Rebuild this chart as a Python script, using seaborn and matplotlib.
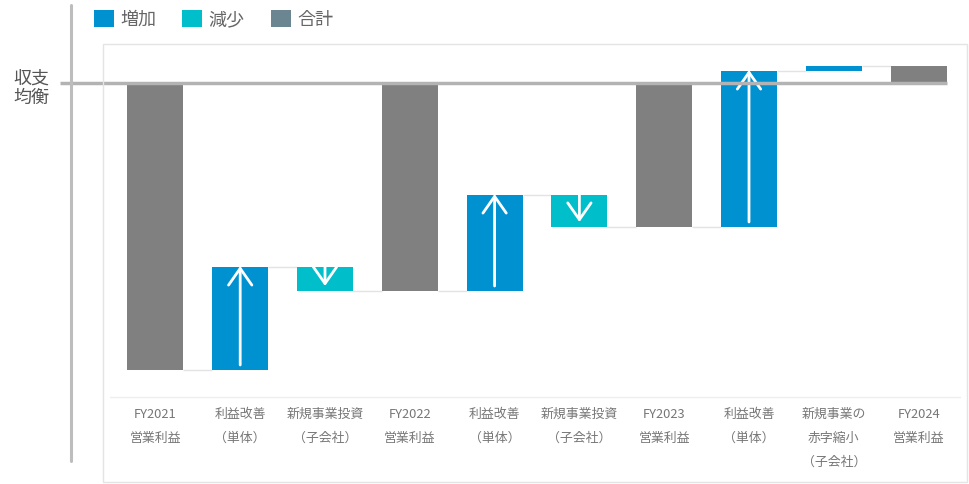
import matplotlib
matplotlib.use("Agg")
import matplotlib.pyplot as plt
import seaborn as sns
import numpy as np
import pandas as pd
from matplotlib.patches import Patch, Rectangle
from matplotlib.lines import Line2D

# ---- data (arbitrary units; 0 = 収支均衡) ----
categories = ["FY2021\n営業利益", "利益改善\n（単体）", "新規事業投資\n（子会社）",
              "FY2022\n営業利益", "利益改善\n（単体）", "新規事業投資\n（子会社）",
              "FY2023\n営業利益", "利益改善\n（単体）", "新規事業の\n赤字縮小\n（子会社）",
              "FY2024\n営業利益"]
kinds = ["total", "up", "down", "total", "up", "down", "total", "up", "up", "total"]
values = [-287, 103, -24, -208, 96, -32, -144, 156, 5, 17]
legend_labels = ["増加", "減少", "合計"]

colors = {"up": "#0091d1", "down": "#00bfca", "total": "#808080"}
legend_colors = ["#0091d1", "#00bfca", "#6b8691"]

# running waterfall bottoms / heights
bottoms, heights, ends = [], [], []
run = 0.0
for k, v in zip(kinds, values):
    if k == "total":
        bottoms.append(0.0); heights.append(v); run = v
    else:
        bottoms.append(run); heights.append(v); run = run + v
    ends.append(run)

W, H = 969, 484
def fx(x): return x / W
def fy(y): return 1 - y / H

sns.set_theme(style="white")
plt.rcParams["font.family"] = ["Noto Sans CJK JP", "DejaVu Sans"]

fig = plt.figure(figsize=(W / 100, H / 100), dpi=100)
ax = fig.add_axes([fx(113), fy(397), 848 / W, 353 / H])

df = pd.DataFrame({"cat": [f"c{i}" for i in range(len(values))], "h": heights})
sns.barplot(data=df, x="cat", y="h", bottom=np.array(bottoms), width=0.66,
            errorbar=None, ax=ax, color="#808080", saturation=1, linewidth=0)
for p, k in zip(ax.patches, kinds):
    p.set_facecolor(colors[k])

ax.set_xlim(-0.5, len(values) - 0.5)
ax.set_ylim(-314, 39)
for s in ax.spines.values():
    s.set_visible(False)
ax.set_yticks([])
ax.set_xlabel(""); ax.set_ylabel("")
ax.set_xticks(range(len(categories)))
ax.set_xticklabels(categories, fontsize=9.3, color="#777777", linespacing=2.1, va="top")
ax.tick_params(axis="x", length=0, pad=8)

# connectors
for i in range(len(values) - 1):
    ax.hlines(ends[i], i + 0.33, i + 1 - 0.33, color="#e3e3e3", lw=1, zorder=0)

# arrows
astyle = "->,head_length=1.0,head_width=0.7"
for i, (k, b, h) in enumerate(zip(kinds, bottoms, heights)):
    if k == "total" or abs(h) < 10:
        continue
    if k == "up":
        ax.annotate("", xy=(i, b + h + 1), xytext=(i, b + 5),
                    arrowprops=dict(arrowstyle=astyle, color="white", lw=2,
                                    shrinkA=0, shrinkB=0))
    else:
        ax.annotate("", xy=(i, b + h + 5), xytext=(i, b),
                    arrowprops=dict(arrowstyle=astyle, color="white", lw=2,
                                    shrinkA=0, shrinkB=0))

# frame / decorations in figure coordinates
fig.patches.append(Rectangle((fx(103), fy(482)), (967 - 103) / W, (482 - 44) / H,
                             transform=fig.transFigure, fill=False,
                             edgecolor="#e4e4e4", lw=1, zorder=0))
fig.lines.append(Line2D([fx(110), fx(960)], [fy(397), fy(397)], transform=fig.transFigure,
                        color="#eeeeee", lw=1))
fig.lines.append(Line2D([fx(71), fx(71)], [fy(5), fy(461)], transform=fig.transFigure,
                        color="#bdbdbd", lw=2.2))
# 収支均衡 line
ax.plot([-0.5 - (113 - 60) / 84.8, len(values) - 1 + 0.33], [0, 0], color="#b3b3b3",
        lw=2.5, clip_on=False, zorder=3, solid_capstyle="butt")
fig.text(fx(31), fy(88), "収支\n均衡", ha="center", va="center", fontsize=13,
         color="#555555", linespacing=1.1)

handles = [Patch(facecolor=c, edgecolor="none") for c in legend_colors]
fig.legend(handles, legend_labels, loc="upper left", bbox_to_anchor=(fx(94), fy(10)),
           ncol=3, frameon=False, fontsize=13, labelcolor="#666666",
           handlelength=1.1, handleheight=1.1, handletextpad=0.35,
           columnspacing=1.45, borderpad=0, borderaxespad=0)

fig.savefig("out.png", dpi=100)
